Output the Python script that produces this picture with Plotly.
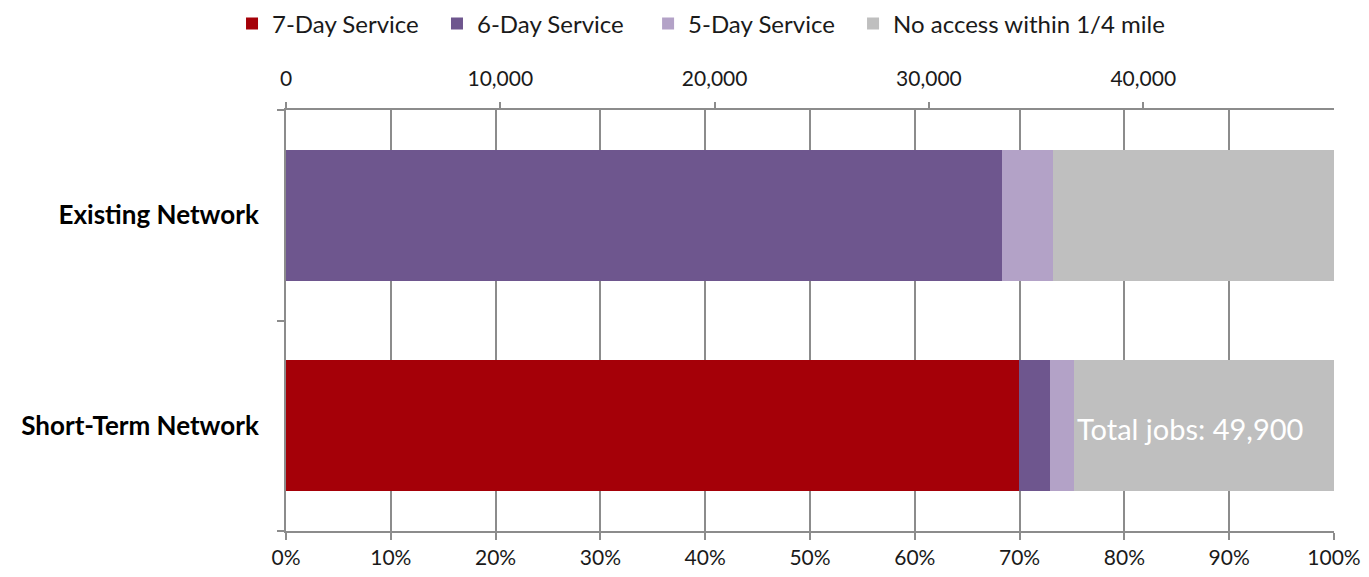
import plotly.graph_objects as go

categories = ["Existing Network", "Short-Term Network"]
series_names = ["7-Day Service", "6-Day Service", "5-Day Service", "No access within 1/4 mile"]
series_colors = ["#A50008", "#6E568E", "#B3A2C7", "#BFBFBF"]
# share of jobs (fraction of total) per category
seven_day = [0.0, 0.699]
six_day = [0.683, 0.030]
five_day = [0.049, 0.023]
no_access = [0.268, 0.248]
total_jobs = 49900
top_axis_max = 48900
top_ticks = [0, 10000, 20000, 30000, 40000]
pct_ticks = [i / 10 for i in range(11)]

series_values = [seven_day, six_day, five_day, no_access]

FONT = "Lato"
AX = "#8C8C8C"
legend_ids = ["legend", "legend2", "legend3", "legend4"]
legend_x = [0.1646, 0.3152, 0.4703, 0.6209]

fig = go.Figure()
for name, vals, col, lid in zip(series_names, series_values, series_colors, legend_ids):
    fig.add_trace(go.Bar(
        name=name, y=categories, x=vals, orientation="h",
        marker=dict(color=col, line=dict(width=0)),
        xaxis="x", yaxis="y", legend=lid,
    ))

# invisible trace to anchor the top (jobs) axis
fig.add_trace(go.Scatter(x=[0, top_axis_max], y=categories, mode="markers",
                         marker=dict(opacity=0), showlegend=False,
                         hoverinfo="skip", xaxis="x2", yaxis="y"))

annot_x = seven_day[1] + six_day[1] + five_day[1]
fig.add_annotation(x=annot_x, y=categories[1], xref="x", yref="y",
                   text=f"Total jobs: {total_jobs:,}", showarrow=False,
                   xanchor="left", yanchor="middle", xshift=1, yshift=-3,
                   font=dict(family=FONT, size=29, color="white"))

legend_layout = {}
for lid, lx in zip(legend_ids, legend_x):
    legend_layout[lid] = dict(
        orientation="h", xref="container", x=lx, xanchor="left",
        yref="container", y=0.972, yanchor="middle",
        font=dict(family=FONT, size=24, color="#1a1a1a"),
        itemwidth=30, bgcolor="rgba(0,0,0,0)")

fig.update_layout(
    width=1361, height=569,
    margin=dict(l=278, r=35, t=102, b=46),
    paper_bgcolor="white", plot_bgcolor="white",
    barmode="stack", bargap=0.376,
    font=dict(family=FONT, size=21, color="#1a1a1a"),
    showlegend=True,
    **legend_layout,
    xaxis=dict(range=[0, 1], tickvals=pct_ticks, tickformat=".0%",
               showgrid=True, gridcolor=AX, gridwidth=2,
               showline=True, linecolor=AX, linewidth=2,
               ticks="outside", ticklen=7, tickwidth=2, tickcolor=AX,
               tickfont=dict(family=FONT, size=21, color="#1a1a1a"),
               zeroline=False, side="bottom", fixedrange=True, automargin=False),
    xaxis2=dict(range=[0, top_axis_max], overlaying="x", side="top",
                tickvals=top_ticks, tickformat=",d", showgrid=False,
                showline=True, linecolor=AX, linewidth=2,
                ticks="outside", ticklen=6, tickwidth=2, tickcolor=AX,
                ticklabelstandoff=8,
                tickfont=dict(family=FONT, size=21, color="#1a1a1a"),
                zeroline=False, automargin=False),
    yaxis=dict(categoryorder="array", categoryarray=categories,
               autorange="reversed", showline=True, linecolor=AX, linewidth=2,
               ticks="outside", tickson="boundaries", ticklen=7, tickwidth=2,
               tickcolor=AX, showgrid=False, ticklabelstandoff=20,
               tickvals=categories, automargin=False,
               ticktext=[f"<b>{c}</b>" for c in categories],
               tickfont=dict(family=FONT, size=26, color="black")),
)

fig.write_html("out.html")
